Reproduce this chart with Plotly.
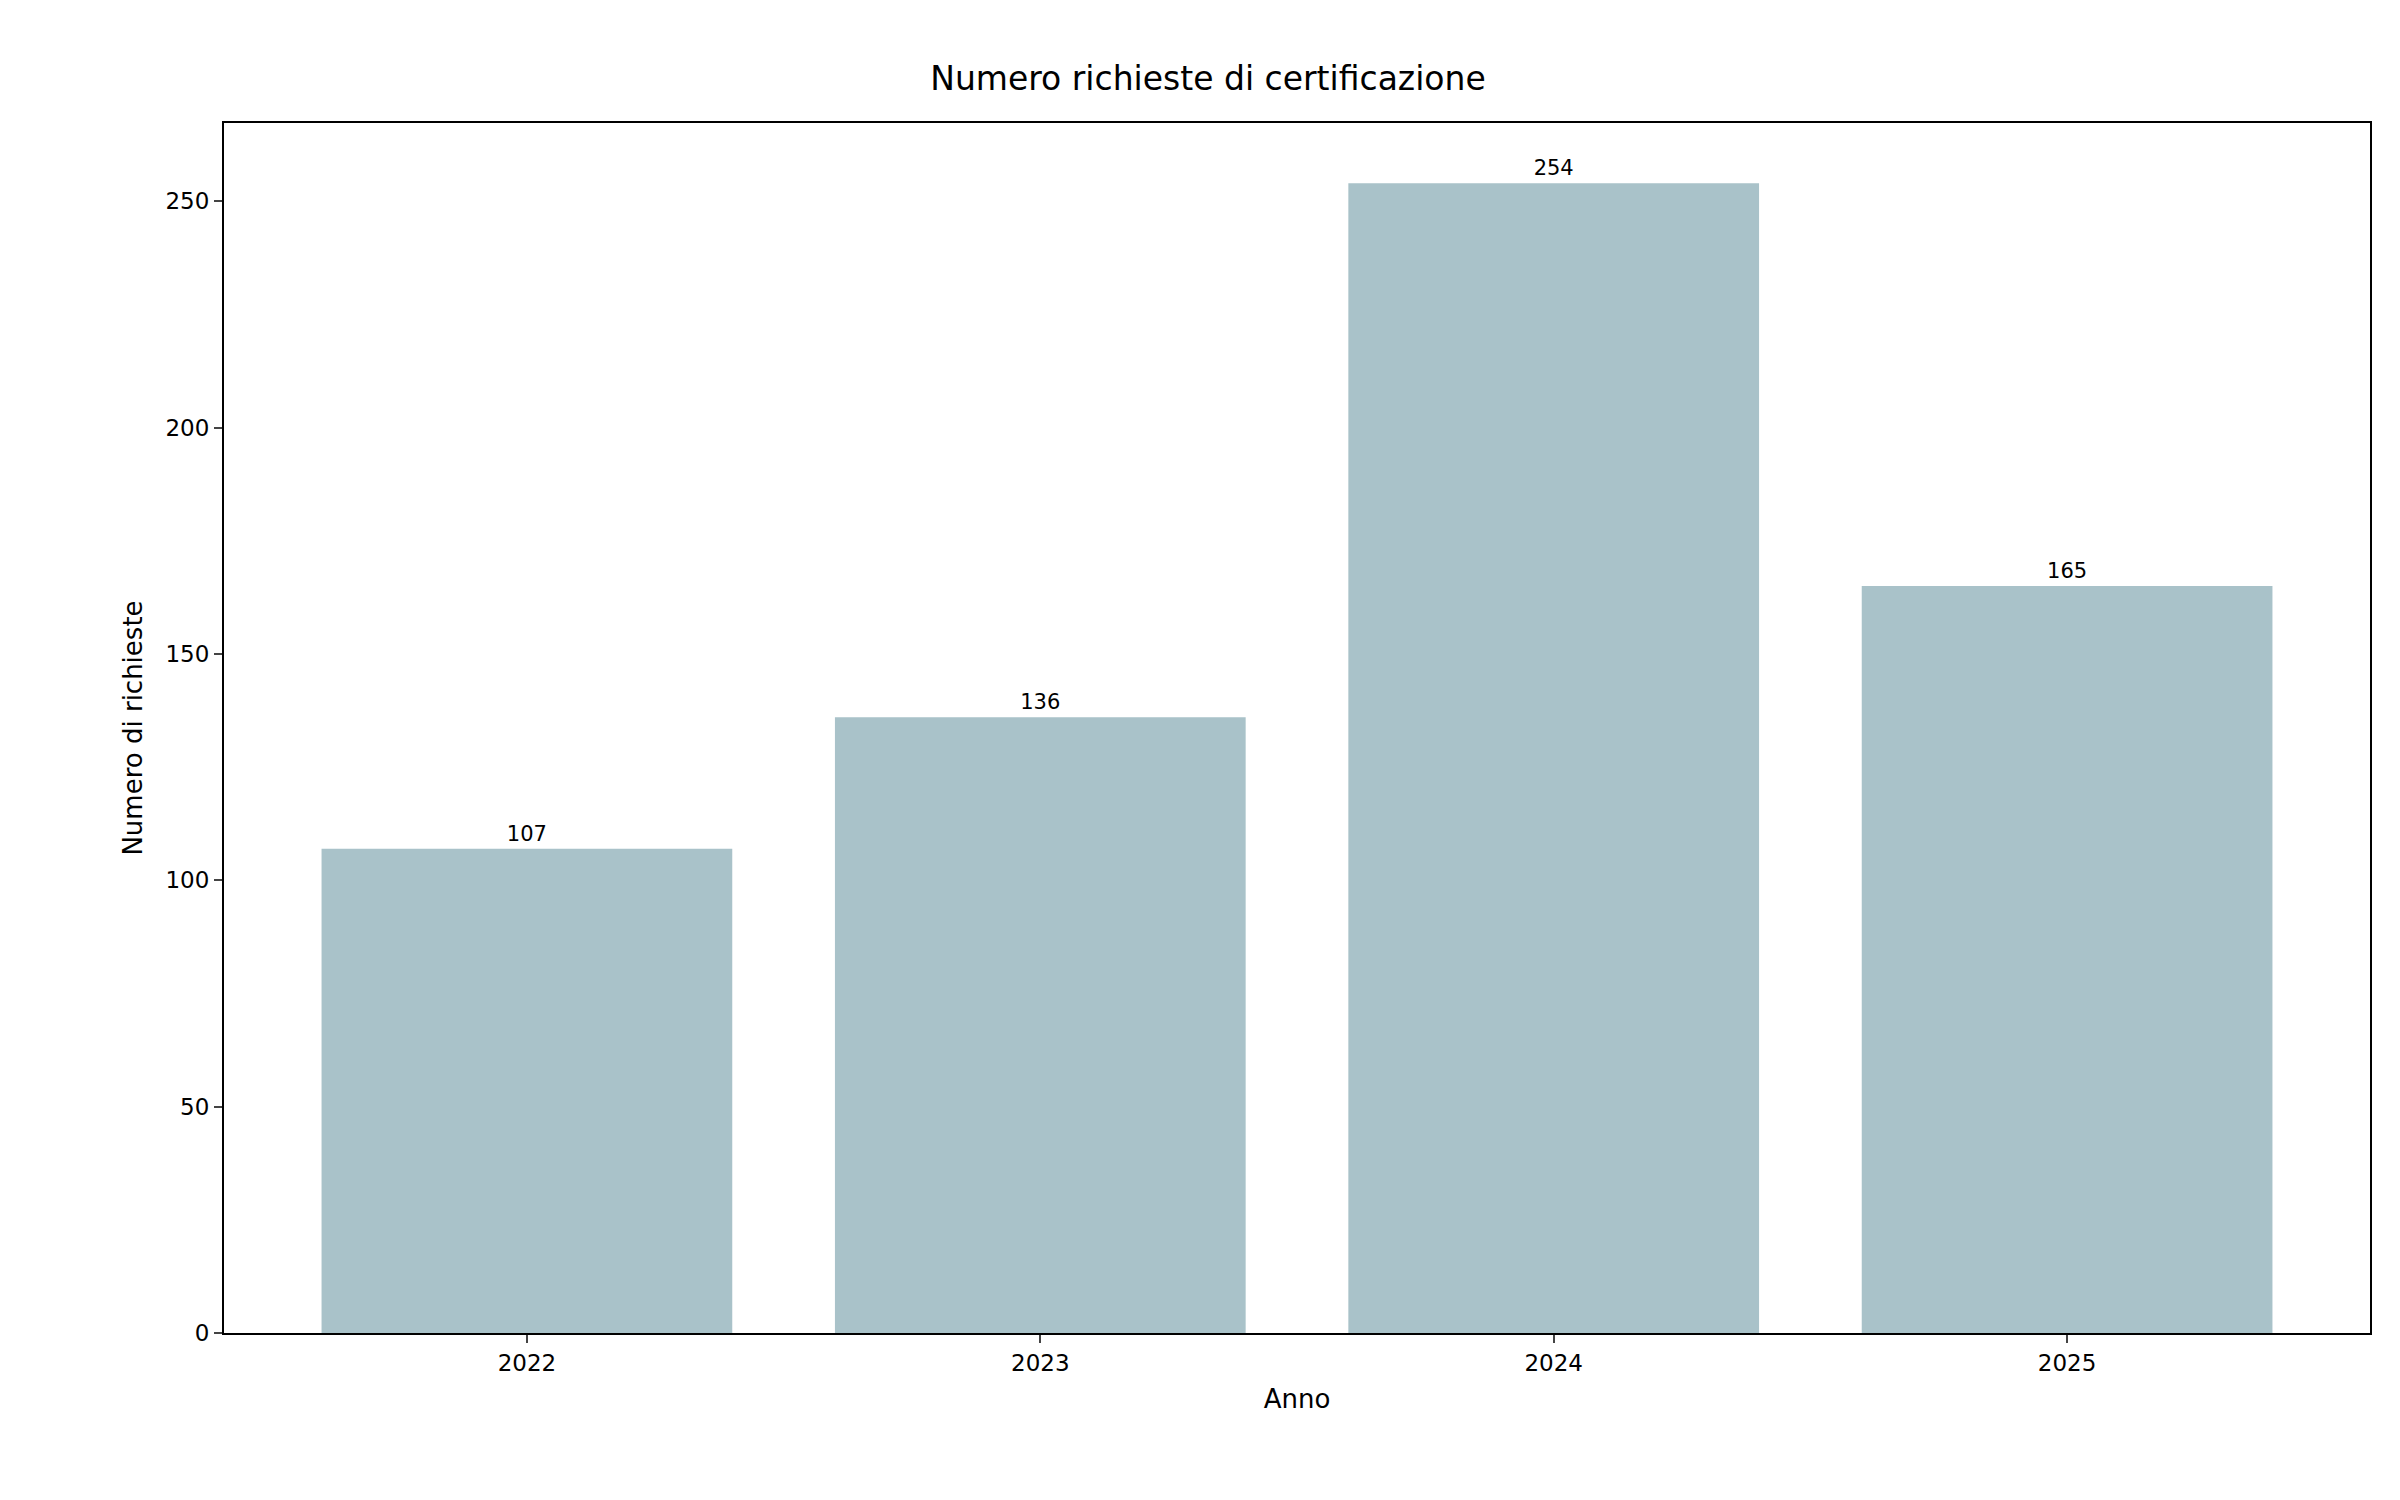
import plotly.graph_objects as go

anni = ["2022", "2023", "2024", "2025"]
richieste = [107, 136, 254, 165]

pos = list(range(len(anni)))

fig = go.Figure(go.Bar(
    x=pos, y=richieste, width=0.8,
    marker=dict(color="#a9c2c9", line=dict(width=0)),
    text=[str(v) for v in richieste], textposition="outside",
    textfont=dict(size=21, color="black"), cliponaxis=False,
))

fig.update_layout(
    width=2400, height=1500,
    margin=dict(l=216, r=38, t=115, b=175),
    paper_bgcolor="white", plot_bgcolor="white",
    font=dict(family="DejaVu Sans", color="black", size=23),
    title=dict(text="Numero richieste di certificazione", x=0.5, xanchor="center",
               y=1 - 70 / 1500, yanchor="middle", font=dict(size=33)),
    showlegend=False,
)
fig.update_xaxes(range=[-0.59, 3.59], tickvals=pos, ticktext=anni,
                 title=dict(text="Anno", font=dict(size=26)),
                 showline=True, linecolor="black", linewidth=2, mirror=True,
                 ticks="outside", ticklen=8, tickwidth=2, showgrid=False, zeroline=False)
fig.update_yaxes(range=[0, 267.3], tickvals=[0, 50, 100, 150, 200, 250],
                 title=dict(text="Numero di richieste", font=dict(size=26)),
                 showline=True, linecolor="black", linewidth=2, mirror=True,
                 ticks="outside", ticklen=8, tickwidth=2, showgrid=False, zeroline=False)

fig.write_html("out.html")
